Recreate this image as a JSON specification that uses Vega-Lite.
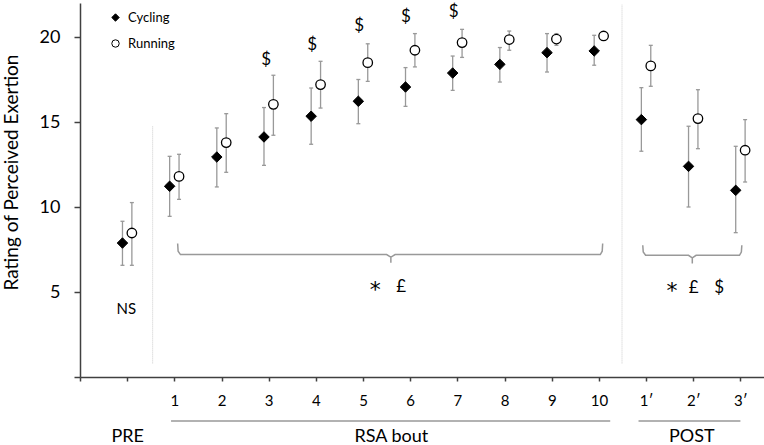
{
  "$schema": "https://vega.github.io/schema/vega-lite/v6.json",
  "width": 684,
  "height": 374,
  "autosize": {"type": "none"},
  "padding": {"left": 80, "top": 3, "right": 0, "bottom": 68},
  "background": "white",
  "config": {
    "view": {"stroke": null},
    "font": "Lato",
    "text": {"font": "Lato", "color": "black"}
  },
  "datasets": {
    "rpe": [
      {"stage": "PRE", "pos": 1, "group": "Cycling", "mean": 7.88, "lo": 6.57, "hi": 9.16},
      {"stage": "PRE", "pos": 1, "group": "Running", "mean": 8.47, "lo": 6.57, "hi": 10.26},
      {"stage": "1", "pos": 2, "group": "Cycling", "mean": 11.22, "lo": 9.45, "hi": 12.98},
      {"stage": "1", "pos": 2, "group": "Running", "mean": 11.8, "lo": 10.45, "hi": 13.1},
      {"stage": "2", "pos": 3, "group": "Cycling", "mean": 12.94, "lo": 11.18, "hi": 14.65},
      {"stage": "2", "pos": 3, "group": "Running", "mean": 13.79, "lo": 12.04, "hi": 15.49},
      {"stage": "3", "pos": 4, "group": "Cycling", "mean": 14.12, "lo": 12.45, "hi": 15.85},
      {"stage": "3", "pos": 4, "group": "Running", "mean": 16.04, "lo": 14.22, "hi": 17.75},
      {"stage": "4", "pos": 5, "group": "Cycling", "mean": 15.34, "lo": 13.69, "hi": 17.0},
      {"stage": "4", "pos": 5, "group": "Running", "mean": 17.2, "lo": 15.82, "hi": 18.57},
      {"stage": "5", "pos": 6, "group": "Cycling", "mean": 16.22, "lo": 14.9, "hi": 17.5},
      {"stage": "5", "pos": 6, "group": "Running", "mean": 18.49, "lo": 17.39, "hi": 19.6},
      {"stage": "6", "pos": 7, "group": "Cycling", "mean": 17.06, "lo": 15.92, "hi": 18.2},
      {"stage": "6", "pos": 7, "group": "Running", "mean": 19.22, "lo": 18.24, "hi": 20.2},
      {"stage": "7", "pos": 8, "group": "Cycling", "mean": 17.88, "lo": 16.86, "hi": 18.88},
      {"stage": "7", "pos": 8, "group": "Running", "mean": 19.67, "lo": 18.8, "hi": 20.45},
      {"stage": "8", "pos": 9, "group": "Cycling", "mean": 18.39, "lo": 17.35, "hi": 19.38},
      {"stage": "8", "pos": 9, "group": "Running", "mean": 19.85, "lo": 19.22, "hi": 20.35},
      {"stage": "9", "pos": 10, "group": "Cycling", "mean": 19.08, "lo": 17.94, "hi": 20.2},
      {"stage": "9", "pos": 10, "group": "Running", "mean": 19.88, "lo": 19.51, "hi": 20.2},
      {"stage": "10", "pos": 11, "group": "Cycling", "mean": 19.18, "lo": 18.34, "hi": 20.1},
      {"stage": "10", "pos": 11, "group": "Running", "mean": 20.06, "lo": 19.85, "hi": 20.25},
      {"stage": "1′", "pos": 12, "group": "Cycling", "mean": 15.14, "lo": 13.28, "hi": 17.02},
      {"stage": "1′", "pos": 12, "group": "Running", "mean": 18.3, "lo": 17.1, "hi": 19.51},
      {"stage": "2′", "pos": 13, "group": "Cycling", "mean": 12.39, "lo": 10.0, "hi": 14.75},
      {"stage": "2′", "pos": 13, "group": "Running", "mean": 15.2, "lo": 13.43, "hi": 16.9},
      {"stage": "3′", "pos": 14, "group": "Cycling", "mean": 10.98, "lo": 8.49, "hi": 13.57},
      {"stage": "3′", "pos": 14, "group": "Running", "mean": 13.34, "lo": 11.47, "hi": 15.14}
    ],
    "separators": [
      {"pos": 1.54, "from": 0.8, "to": 14.8},
      {"pos": 11.49, "from": 0.8, "to": 21.9}
    ],
    "brackets": [
      {"bracket": "RSA", "step": 1, "pos": 2.07, "y": 7.85},
      {"bracket": "RSA", "step": 2, "pos": 2.08, "y": 7.4},
      {"bracket": "RSA", "step": 3, "pos": 2.13, "y": 7.2},
      {"bracket": "RSA", "step": 4, "pos": 6.5, "y": 7.2},
      {"bracket": "RSA", "step": 5, "pos": 6.59, "y": 7.05},
      {"bracket": "RSA", "step": 6, "pos": 6.59, "y": 6.72},
      {"bracket": "RSA", "step": 7, "pos": 6.59, "y": 7.05},
      {"bracket": "RSA", "step": 8, "pos": 6.68, "y": 7.2},
      {"bracket": "RSA", "step": 9, "pos": 11.03, "y": 7.2},
      {"bracket": "RSA", "step": 10, "pos": 11.07, "y": 7.4},
      {"bracket": "RSA", "step": 11, "pos": 11.08, "y": 7.85},
      {"bracket": "POST", "step": 1, "pos": 11.93, "y": 7.75},
      {"bracket": "POST", "step": 2, "pos": 11.94, "y": 7.35},
      {"bracket": "POST", "step": 3, "pos": 11.99, "y": 7.16},
      {"bracket": "POST", "step": 4, "pos": 12.9, "y": 7.16},
      {"bracket": "POST", "step": 5, "pos": 12.98, "y": 7.0},
      {"bracket": "POST", "step": 6, "pos": 12.98, "y": 6.67},
      {"bracket": "POST", "step": 7, "pos": 12.98, "y": 7.0},
      {"bracket": "POST", "step": 8, "pos": 13.06, "y": 7.16},
      {"bracket": "POST", "step": 9, "pos": 13.98, "y": 7.16},
      {"bracket": "POST", "step": 10, "pos": 14.02, "y": 7.35},
      {"bracket": "POST", "step": 11, "pos": 14.03, "y": 7.75}
    ],
    "notes": [
      {"note": "$", "pos": 3.945, "y": 18.67, "kind": "mark"},
      {"note": "$", "pos": 4.92, "y": 19.55, "kind": "mark"},
      {"note": "$", "pos": 5.92, "y": 20.63, "kind": "mark"},
      {"note": "$", "pos": 6.91, "y": 21.2, "kind": "mark"},
      {"note": "$", "pos": 7.92, "y": 21.45, "kind": "mark"},
      {"note": "NS", "pos": 0.98, "y": 4.02, "kind": "word"},
      {"note": "*", "pos": 6.26, "y": 5.3, "kind": "star"},
      {"note": "£", "pos": 6.81, "y": 5.3, "kind": "mark"},
      {"note": "*", "pos": 12.55, "y": 5.25, "kind": "star"},
      {"note": "£", "pos": 13.01, "y": 5.25, "kind": "mark"},
      {"note": "$", "pos": 13.55, "y": 5.25, "kind": "mark"}
    ],
    "underlines": [
      {"from": 1.93, "to": 11.24, "y": -2.59},
      {"from": 11.84, "to": 14.0, "y": -2.59}
    ],
    "phases": [
      {"phase": "PRE", "pos": 1.01, "y": -3.53},
      {"phase": "RSA bout", "pos": 6.6, "y": -3.53},
      {"phase": "POST", "pos": 12.97, "y": -3.53}
    ]
  },
  "layer": [
    {
      "data": {"name": "separators"},
      "mark": {"type": "rule", "color": "#cccccc", "strokeWidth": 1, "strokeDash": [1, 1]},
      "encoding": {
        "x": {
          "field": "pos", "type": "quantitative",
          "scale": {"domain": [0, 14.5], "nice": false, "zero": false},
          "axis": {
            "title": null,
            "values": [0, 1, 2, 3, 4, 5, 6, 7, 8, 9, 10, 11, 12, 13, 14],
            "labelExpr": "datum.value < 2 ? '' : (datum.value <= 11 ? '' + (datum.value - 1) : (datum.value - 11) + '′')",
            "grid": false,
            "domainColor": "#404040",
            "domainWidth": 1.5,
            "tickColor": "#404040",
            "tickWidth": 1.5,
            "tickSize": 4,
            "labelFont": "Lato",
            "labelFontSize": 15,
            "labelColor": "black",
            "labelPadding": 12,
            "labelFlush": false,
            "labelOverlap": false
          }
        },
        "y": {
          "field": "from", "type": "quantitative",
          "scale": {"domain": [0, 22], "nice": false, "zero": false},
          "axis": {
            "title": "Rating of Perceived Exertion",
            "values": [0, 5, 10, 15, 20],
            "labelExpr": "datum.value == 0 ? '' : datum.label",
            "grid": false,
            "domainColor": "#404040",
            "domainWidth": 1.5,
            "tickColor": "#404040",
            "tickWidth": 1.5,
            "tickSize": 6,
            "labelFont": "Lato",
            "labelFontSize": 18,
            "labelColor": "black",
            "labelPadding": 14,
            "titleFont": "Lato",
            "titleFontSize": 19,
            "titleFontWeight": "normal",
            "titleColor": "black",
            "titleAngle": 270,
            "titleAlign": "center",
            "titleBaseline": "middle",
            "titleX": -69,
            "titleY": 169
          }
        },
        "y2": {"field": "to"}
      }
    },
    {
      "data": {"name": "rpe"},
      "transform": [{"filter": "datum.group == 'Cycling'"}],
      "mark": {"type": "rule", "color": "#999999", "strokeWidth": 1.3, "xOffset": -4.7},
      "encoding": {
        "x": {"field": "pos", "type": "quantitative", "scale": {"domain": [0, 14.5], "nice": false, "zero": false}},
        "y": {"field": "lo", "type": "quantitative", "scale": {"domain": [0, 22], "nice": false, "zero": false}},
        "y2": {"field": "hi"}
      }
    },
    {
      "data": {"name": "rpe"},
      "transform": [{"filter": "datum.group == 'Running'"}],
      "mark": {"type": "rule", "color": "#999999", "strokeWidth": 1.3, "xOffset": 4.7},
      "encoding": {
        "x": {"field": "pos", "type": "quantitative", "scale": {"domain": [0, 14.5], "nice": false, "zero": false}},
        "y": {"field": "lo", "type": "quantitative", "scale": {"domain": [0, 22], "nice": false, "zero": false}},
        "y2": {"field": "hi"}
      }
    },
    {
      "data": {"name": "rpe"},
      "transform": [
        {"filter": "datum.group == 'Cycling'"},
        {"fold": ["lo", "hi"], "as": ["end", "val"]}
      ],
      "mark": {"type": "tick", "orient": "horizontal", "size": 4, "thickness": 1.3, "color": "#999999", "opacity": 1, "xOffset": -4.7},
      "encoding": {
        "x": {"field": "pos", "type": "quantitative", "scale": {"domain": [0, 14.5], "nice": false, "zero": false}},
        "y": {"field": "val", "type": "quantitative", "scale": {"domain": [0, 22], "nice": false, "zero": false}}
      }
    },
    {
      "data": {"name": "rpe"},
      "transform": [
        {"filter": "datum.group == 'Running'"},
        {"fold": ["lo", "hi"], "as": ["end", "val"]}
      ],
      "mark": {"type": "tick", "orient": "horizontal", "size": 4, "thickness": 1.3, "color": "#999999", "opacity": 1, "xOffset": 4.7},
      "encoding": {
        "x": {"field": "pos", "type": "quantitative", "scale": {"domain": [0, 14.5], "nice": false, "zero": false}},
        "y": {"field": "val", "type": "quantitative", "scale": {"domain": [0, 22], "nice": false, "zero": false}}
      }
    },
    {
      "data": {"name": "rpe"},
      "transform": [{"filter": "datum.group == 'Cycling'"}],
      "mark": {"type": "point", "filled": true, "size": 110, "opacity": 1, "strokeWidth": 1, "xOffset": -4.7},
      "encoding": {
        "x": {"field": "pos", "type": "quantitative", "scale": {"domain": [0, 14.5], "nice": false, "zero": false}},
        "y": {"field": "mean", "type": "quantitative", "scale": {"domain": [0, 22], "nice": false, "zero": false}},
        "stroke": {
          "field": "group", "type": "nominal",
          "scale": {"domain": ["Cycling", "Running"], "range": ["black", "black"]},
          "legend": {
            "title": null, "orient": "none", "legendX": 29, "legendY": 8,
            "symbolSize": 55, "symbolStrokeWidth": 1,
            "labelFont": "Lato", "labelFontSize": 13, "labelColor": "black",
            "labelOffset": 6, "rowPadding": 12, "padding": 0
          }
        },
        "shape": {
          "field": "group", "type": "nominal",
          "scale": {"domain": ["Cycling", "Running"], "range": ["diamond", "circle"]},
          "legend": {
            "title": null, "orient": "none", "legendX": 29, "legendY": 8,
            "symbolSize": 55, "symbolStrokeWidth": 1,
            "labelFont": "Lato", "labelFontSize": 13, "labelColor": "black",
            "labelOffset": 6, "rowPadding": 12, "padding": 0
          }
        },
        "fill": {
          "field": "group", "type": "nominal",
          "scale": {"domain": ["Cycling", "Running"], "range": ["black", "white"]},
          "legend": {
            "title": null, "orient": "none", "legendX": 29, "legendY": 8,
            "symbolSize": 55, "symbolStrokeWidth": 1,
            "labelFont": "Lato", "labelFontSize": 13, "labelColor": "black",
            "labelOffset": 6, "rowPadding": 12, "padding": 0
          }
        }
      }
    },
    {
      "data": {"name": "rpe"},
      "transform": [{"filter": "datum.group == 'Running'"}],
      "mark": {"type": "point", "filled": true, "size": 90, "opacity": 1, "strokeWidth": 1.3, "xOffset": 4.7},
      "encoding": {
        "x": {"field": "pos", "type": "quantitative", "scale": {"domain": [0, 14.5], "nice": false, "zero": false}},
        "y": {"field": "mean", "type": "quantitative", "scale": {"domain": [0, 22], "nice": false, "zero": false}},
        "stroke": {"field": "group", "type": "nominal", "scale": {"domain": ["Cycling", "Running"], "range": ["black", "black"]}},
        "shape": {"field": "group", "type": "nominal", "scale": {"domain": ["Cycling", "Running"], "range": ["diamond", "circle"]}},
        "fill": {"field": "group", "type": "nominal", "scale": {"domain": ["Cycling", "Running"], "range": ["black", "white"]}}
      }
    },
    {
      "data": {"name": "brackets"},
      "mark": {"type": "line", "color": "#999999", "strokeWidth": 1.5},
      "encoding": {
        "x": {"field": "pos", "type": "quantitative", "scale": {"domain": [0, 14.5], "nice": false, "zero": false}},
        "y": {"field": "y", "type": "quantitative", "scale": {"domain": [0, 22], "nice": false, "zero": false}},
        "detail": {"field": "bracket", "type": "nominal"},
        "order": {"field": "step", "type": "quantitative"}
      }
    },
    {
      "data": {"name": "notes"},
      "transform": [{"filter": "datum.kind != 'star'"}],
      "mark": {"type": "text", "align": "center", "baseline": "middle", "font": "Lato", "color": "black"},
      "encoding": {
        "x": {"field": "pos", "type": "quantitative", "scale": {"domain": [0, 14.5], "nice": false, "zero": false}},
        "y": {"field": "y", "type": "quantitative", "scale": {"domain": [0, 22], "nice": false, "zero": false}},
        "text": {"field": "note"},
        "size": {"field": "kind", "type": "nominal", "scale": {"domain": ["mark", "word"], "range": [17, 15]}, "legend": null}
      }
    },
    {
      "data": {"name": "notes"},
      "transform": [{"filter": "datum.kind == 'star'"}],
      "mark": {"type": "text", "align": "center", "baseline": "middle", "font": "DejaVu Sans", "fontSize": 22, "dy": 3, "color": "black"},
      "encoding": {
        "x": {"field": "pos", "type": "quantitative", "scale": {"domain": [0, 14.5], "nice": false, "zero": false}},
        "y": {"field": "y", "type": "quantitative", "scale": {"domain": [0, 22], "nice": false, "zero": false}},
        "text": {"field": "note"}
      }
    },
    {
      "data": {"name": "underlines"},
      "mark": {"type": "rule", "color": "#999999", "strokeWidth": 1.5},
      "encoding": {
        "x": {"field": "from", "type": "quantitative", "scale": {"domain": [0, 14.5], "nice": false, "zero": false}},
        "x2": {"field": "to"},
        "y": {"field": "y", "type": "quantitative", "scale": {"domain": [0, 22], "nice": false, "zero": false}}
      }
    },
    {
      "data": {"name": "phases"},
      "mark": {"type": "text", "align": "center", "baseline": "middle", "font": "Lato", "fontSize": 18, "color": "black"},
      "encoding": {
        "x": {"field": "pos", "type": "quantitative", "scale": {"domain": [0, 14.5], "nice": false, "zero": false}},
        "y": {"field": "y", "type": "quantitative", "scale": {"domain": [0, 22], "nice": false, "zero": false}},
        "text": {"field": "phase"}
      }
    }
  ]
}
